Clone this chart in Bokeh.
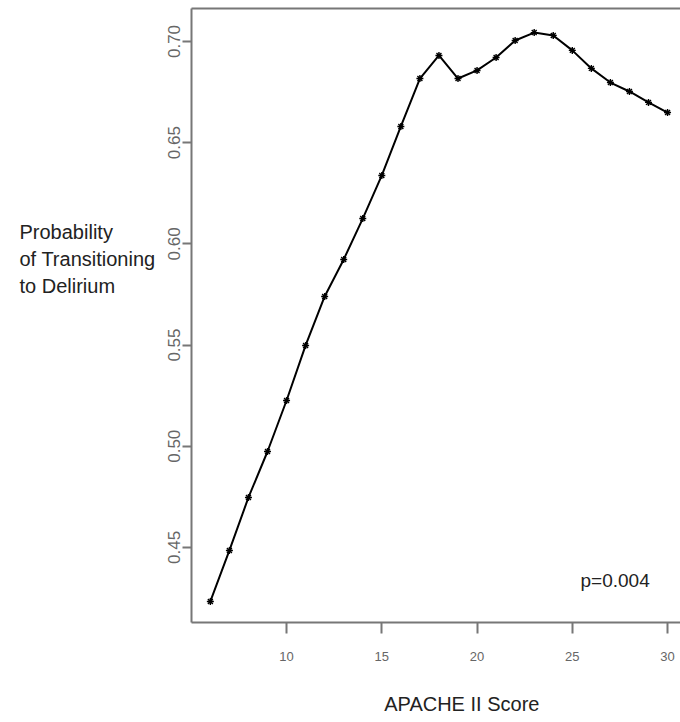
from bokeh.plotting import figure
from bokeh.models import Range1d, FixedTicker, Label, LinearAxis
from bokeh.layouts import row
from bokeh.core.properties import value
from bokeh.embed import file_html
from bokeh.resources import INLINE

apache = [6, 7, 8, 9, 10, 11, 12, 13, 14, 15, 16, 17, 18, 19, 20, 21, 22, 23, 24, 25, 26, 27, 28, 29, 30]
prob = [0.4233, 0.4485, 0.4747, 0.4974, 0.5226, 0.5498, 0.5740, 0.5923, 0.6125, 0.6338, 0.6580, 0.6817,
        0.6931, 0.6817, 0.6857, 0.6921, 0.7005, 0.7044, 0.7030, 0.6956, 0.6867, 0.6797, 0.6753, 0.6699, 0.6649]
x_ticks = [10, 15, 20, 25, 30]
y_ticks = [0.45, 0.50, 0.55, 0.60, 0.65, 0.70]
y_title_lines = ["Probability", "of Transitioning", "to Delirium"]
x_title = "APACHE II Score"
p_text = "p=0.004"

FONT = "Liberation Sans"
AXIS_GRAY = "#777777"
TEXT_DARK = "#222222"

H = 720
LEFT_W = 161
TOP_B = 8
BOTTOM_B = 98
FRAME_TOP = TOP_B
FRAME_BOTTOM = H - BOTTOM_B

# ---- left title panel (separate figure, pixel coordinates measured from top) ----
lp = figure(width=LEFT_W, height=H, output_backend="svg", toolbar_location=None,
            x_range=Range1d(0, LEFT_W), y_range=Range1d(FRAME_BOTTOM, FRAME_TOP),
            x_axis_type=None, y_axis_type=None,
            min_border_left=0, min_border_right=0, min_border_top=TOP_B, min_border_bottom=BOTTOM_B)
lp.outline_line_color = None
lp.grid.visible = False
line_x = [19] * len(y_title_lines)
line_y = [231 + 27 * i for i in range(len(y_title_lines))]
lp.text(x=line_x, y=line_y, text=y_title_lines, text_font=value(FONT), text_font_size="20px",
        text_color=TEXT_DARK, text_align="left", text_baseline="middle")

# ---- main plot ----
p = figure(width=680 - LEFT_W, height=H, output_backend="svg", toolbar_location=None,
           x_range=Range1d(5.01, 30.68), y_range=Range1d(0.4129, 0.7163),
           min_border_left=191 - LEFT_W, min_border_right=0, min_border_top=TOP_B, min_border_bottom=BOTTOM_B)

p.grid.visible = False
p.outline_line_color = None
p.background_fill_color = "white"
p.border_fill_color = "white"

p.line(apache, prob, line_color="black", line_width=2)
p.scatter(apache, prob, marker="asterisk", size=7, line_color="black", line_width=1.4)

p.xaxis.ticker = FixedTicker(ticks=x_ticks)
p.xaxis.major_label_overrides = {t: str(t) for t in x_ticks}
p.yaxis.ticker = FixedTicker(ticks=y_ticks)
p.yaxis.major_label_overrides = {t: f"{t:.2f}" for t in y_ticks}
p.yaxis.major_label_orientation = "vertical"

for ax in (p.xaxis[0], p.yaxis[0]):
    ax.axis_line_color = AXIS_GRAY
    ax.axis_line_width = 2
    ax.major_tick_line_color = AXIS_GRAY
    ax.major_tick_line_width = 2
    ax.major_tick_in = 0
    ax.minor_tick_line_color = None
    ax.major_label_text_font = FONT
    ax.major_label_text_color = "#666666"

p.xaxis.major_tick_out = 11
p.xaxis.major_label_standoff = 18
p.xaxis.major_label_text_font_size = "13px"

p.yaxis.major_tick_out = 9
p.yaxis.major_label_standoff = 2
p.yaxis.major_label_text_font_size = "17px"

# top border as an axis line only
top = LinearAxis(ticker=FixedTicker(ticks=[]), axis_line_color=AXIS_GRAY, axis_line_width=2,
                 major_tick_line_color=None, minor_tick_line_color=None,
                 major_label_text_font_size="0px")
p.add_layout(top, "above")

# x title as a second bottom axis, label placed under the middle of the (cut off) R plot
XTITLE_POS = 19.2
xt = LinearAxis(ticker=FixedTicker(ticks=[XTITLE_POS]),
                major_label_overrides={XTITLE_POS: x_title},
                axis_line_color=None, major_tick_line_color=None, minor_tick_line_color=None,
                major_tick_out=0, major_tick_in=0, major_label_standoff=29,
                major_label_text_font=FONT, major_label_text_font_size="20px",
                major_label_text_color=TEXT_DARK)
p.add_layout(xt, "below")

plab = Label(x=25.43, y=0.4337, text=p_text, text_font=FONT, text_font_size="19px",
             text_color=TEXT_DARK, text_align="left", text_baseline="middle")
p.add_layout(plab)

layout = row(lp, p)
open("out.html", "w").write(file_html(layout, INLINE))
